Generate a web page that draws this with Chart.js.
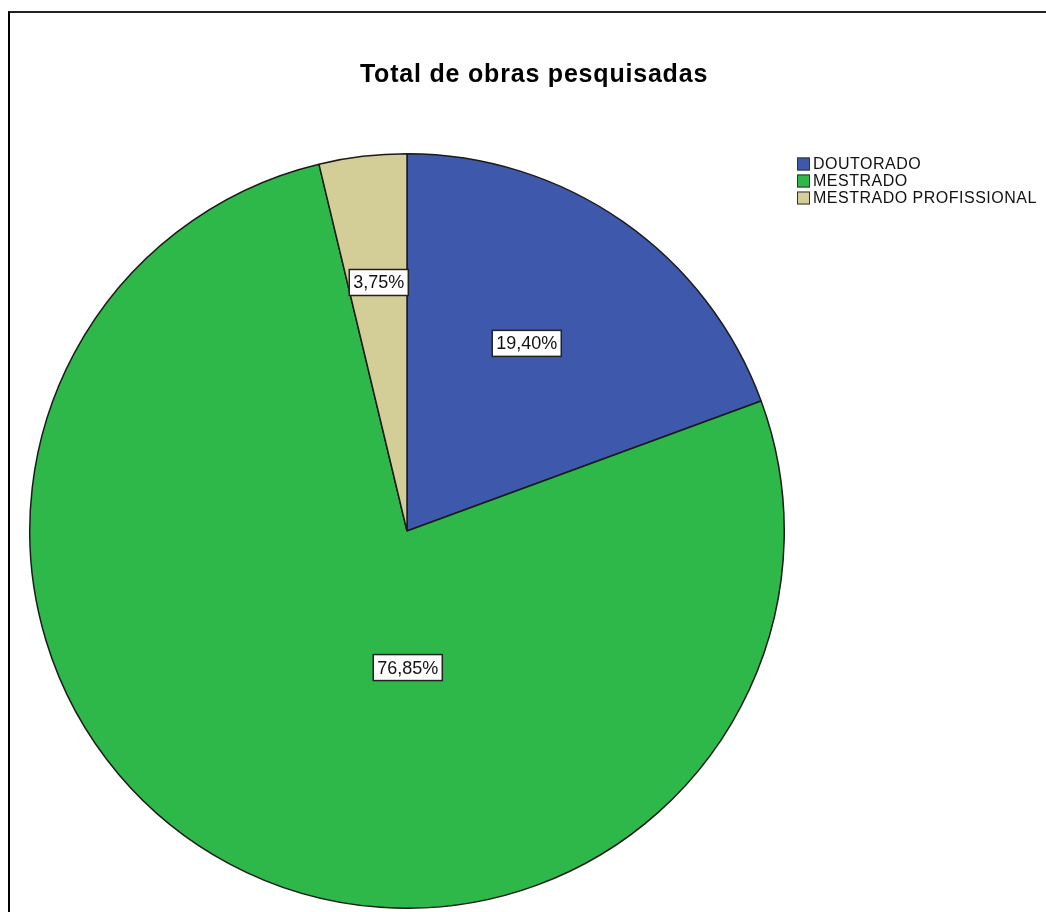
<!DOCTYPE html>
<html>
<head>
<meta charset="utf-8">
<title>Total de obras pesquisadas</title>
<script src="https://cdn.jsdelivr.net/npm/chart.js@4/dist/chart.umd.min.js"></script>
<style>
  html, body { margin: 0; padding: 0; background: #ffffff; }
  #wrap { position: relative; width: 1046px; height: 912px; overflow: hidden; }
  #frame {
    position: absolute; left: 8px; top: 11px; width: 1100px; height: 1000px;
    border-left: 2px solid #000; border-top: 2px solid #222;
    box-sizing: border-box; pointer-events: none;
  }
  canvas { position: absolute; left: 0; top: 0; }
</style>
</head>
<body>
<div id="wrap">
  <canvas id="chart" width="1046" height="912"></canvas>
  <div id="frame"></div>
</div>
<script>
// Categories and their shares (percent of all surveyed works)
const categories = ['DOUTORADO', 'MESTRADO', 'MESTRADO PROFISSIONAL'];
const shares = [19.40, 76.85, 3.75];
const valueLabels = ['19,40%', '76,85%', '3,75%'];
const chartTitle = 'Total de obras pesquisadas';

const sliceColors = ['#3e58ac', '#2fb84a', '#d3cd98'];
const FONT = '"Liberation Sans", Arial, sans-serif';

// Title, legend and boxed value labels painted on top of the pie
const decorations = {
  id: 'decorations',
  afterDatasetsDraw(chart, args, opts) {
    const ctx = chart.ctx;
    const meta = chart.getDatasetMeta(0);
    ctx.save();

    // title
    ctx.fillStyle = '#000';
    ctx.font = 'bold ' + opts.titleSize + 'px ' + FONT;
    ctx.letterSpacing = opts.titleSpacing + 'px';
    ctx.textAlign = 'center';
    ctx.textBaseline = 'middle';
    ctx.fillText(chartTitle, opts.titleX, opts.titleY);

    // legend
    ctx.font = opts.legendSize + 'px ' + FONT;
    ctx.letterSpacing = opts.legendSpacing + 'px';
    ctx.textAlign = 'left';
    categories.forEach((name, i) => {
      const y = opts.legendY + i * opts.legendStep;
      ctx.fillStyle = sliceColors[i];
      ctx.fillRect(opts.legendX, y - opts.box / 2, opts.box, opts.box);
      ctx.strokeStyle = '#333';
      ctx.lineWidth = 1;
      ctx.strokeRect(opts.legendX + 0.5, y - opts.box / 2 + 0.5, opts.box - 1, opts.box - 1);
      ctx.fillStyle = '#111';
      ctx.fillText(name, opts.legendX + opts.box + 3, y + 1);
    });

    // value labels inside slices
    ctx.font = opts.labelSize + 'px ' + FONT;
    ctx.letterSpacing = '0px';
    ctx.textAlign = 'center';
    meta.data.forEach((arc, i) => {
      const p = arc.getProps(['x', 'y', 'startAngle', 'endAngle', 'outerRadius'], true);
      const place = opts.placement[i];
      const a = p.startAngle + (p.endAngle - p.startAngle) * place.along;
      const r = p.outerRadius * place.radial;
      const cx = p.x + Math.cos(a) * r;
      const cy = p.y + Math.sin(a) * r;
      const text = valueLabels[i];
      const w = ctx.measureText(text).width + 8;
      const h = opts.labelSize + 8;
      ctx.fillStyle = '#fff';
      ctx.fillRect(cx - w / 2, cy - h / 2, w, h);
      ctx.strokeStyle = '#222';
      ctx.lineWidth = 1.5;
      ctx.strokeRect(cx - w / 2, cy - h / 2, w, h);
      ctx.fillStyle = '#111';
      ctx.fillText(text, cx, cy + 1);
    });
    ctx.restore();
  }
};

new Chart(document.getElementById('chart'), {
  type: 'pie',
  data: {
    labels: categories,
    datasets: [{
      data: shares,
      backgroundColor: sliceColors,
      borderColor: '#1b1b1b',
      borderWidth: 1.5
    }]
  },
  options: {
    responsive: false,
    animation: false,
    events: [],
    layout: { padding: { left: 29, right: 261, top: 153, bottom: 3 } },
    plugins: {
      legend: { display: false },
      title: { display: false },
      tooltip: { enabled: false },
      decorations: {
        titleSize: 25, titleSpacing: 0.8, titleX: 534, titleY: 75,
        legendSize: 16, legendSpacing: 0.5, legendX: 797, legendY: 164, legendStep: 17, box: 13,
        labelSize: 18,
        placement: [
          { along: 0.466, radial: 0.59 },
          { along: 0.397, radial: 0.362 },
          { along: 0.52, radial: 0.663 }
        ]
      }
    }
  },
  plugins: [decorations]
});
</script>
</body>
</html>
